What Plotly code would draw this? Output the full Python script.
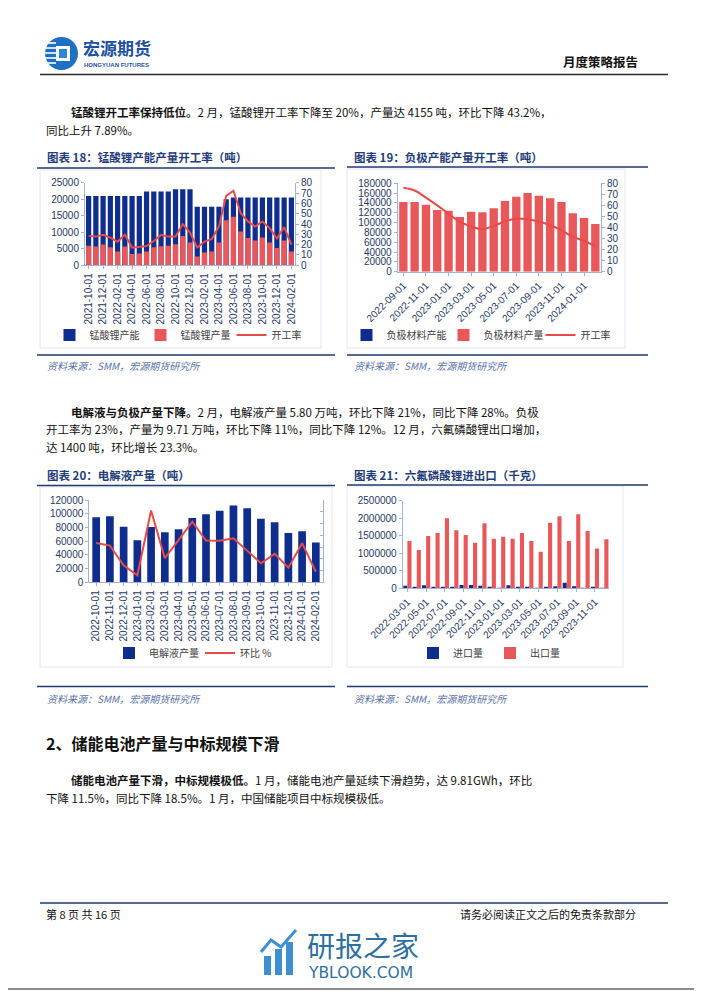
import plotly.graph_objects as go

# The page body adds an 8 px offset; the figure covers 8..702 x 8..991 of the window.
OFF = 8
W, H = 702 - OFF, 991 - OFF
def px(x): return (x - OFF) / W
def py(y): return 1 - (y - OFF) / H

# ---------------- data ----------------
lmo_months = ["2021-10-01","2021-11-01","2021-12-01","2022-01-01","2022-02-01","2022-03-01","2022-04-01","2022-05-01",
              "2022-06-01","2022-07-01","2022-08-01","2022-09-01","2022-10-01","2022-11-01","2022-12-01","2023-01-01",
              "2023-02-01","2023-03-01","2023-04-01","2023-05-01","2023-06-01","2023-07-01","2023-08-01","2023-09-01",
              "2023-10-01","2023-11-01","2023-12-01","2024-01-01","2024-02-01"]
lmo_capacity = [21000,21000,21000,21000,21000,21000,21000,21000,22300,22300,22300,22300,23000,23000,23000,17700,
                17700,17700,17700,20000,20500,20500,20500,20500,20500,20500,20500,20500,20500]
lmo_output = [5900,5700,6300,5500,4200,5700,3400,3600,4200,5500,5800,5900,6400,8900,6900,2700,
              3900,4200,6900,13600,14700,10200,8300,7500,8400,6900,5200,7500,4155]
lmo_rate = [28.5,27.8,29.5,26.8,22.9,29.7,17.0,18.0,18.6,23.5,29.4,27.8,27.8,39.9,31.7,17.3,
            22.9,25.2,37.6,67.3,72.2,50.6,42.5,37.6,42.5,36.0,26.0,37.0,20.0]

anode_months = ["2022-09-01","2022-10-01","2022-11-01","2022-12-01","2023-01-01","2023-02-01","2023-03-01","2023-04-01",
                "2023-05-01","2023-06-01","2023-07-01","2023-08-01","2023-09-01","2023-10-01","2023-11-01","2023-12-01",
                "2024-01-01","2024-02-01"]
anode_capacity = [None, None, None, None, None, None, None, None, None,
                  None, None, None, None, None, None, None, None, None]
anode_output = [142000,142000,136500,125700,124300,111400,122300,121000,129000,144000,152800,160300,
                154900,149500,142000,118900,109400,97100]
anode_rate = [76.0,73.5,67.0,60.0,52.5,45.0,41.0,38.5,41.5,45.5,48.0,47.5,45.5,42.0,37.5,31.5,28.0,23.0]

elec_months = ["2022-10-01","2022-11-01","2022-12-01","2023-01-01","2023-02-01","2023-03-01","2023-04-01","2023-05-01",
               "2023-06-01","2023-07-01","2023-08-01","2023-09-01","2023-10-01","2023-11-01","2023-12-01","2024-01-01",
               "2024-02-01"]
elec_output = [94700,96200,81100,61200,80600,72900,77300,93800,99100,104500,111800,107900,92800,87500,71900,74300,58000]
elec_mom = [3.4,1.2,-15.5,-24.0,31.0,-9.5,5.8,21.5,5.5,5.3,7.5,-3.0,-13.8,-5.8,-17.6,3.3,-21.0]

lipf6_months = ["2022-03-01","2022-04-01","2022-05-01","2022-06-01","2022-07-01","2022-08-01","2022-09-01","2022-10-01",
                "2022-11-01","2022-12-01","2023-01-01","2023-02-01","2023-03-01","2023-04-01","2023-05-01","2023-06-01",
                "2023-07-01","2023-08-01","2023-09-01","2023-10-01","2023-11-01","2023-12-01"]
lipf6_import = [75000,45000,90000,45000,40000,45000,95000,95000,75000,45000,5000,90000,
                25000,25000,5000,25000,55000,160000,55000,5000,25000,5000]
lipf6_export = [1350000,1093000,1492000,1578000,1996000,1654000,1521000,1302000,1854000,1416000,1473000,
                1416000,1578000,1350000,1046000,1873000,2053000,1350000,2110000,1635000,1135000,1400000]

# ---------------- styles ----------------
NAVY = "#0f2d8c"
RED = "#e8585b"
LINE = "#e84a4a"
TITLE = "#1f3d7a"
RULE = "#1f3a6e"
AXIS = "#9fb3d8"
TICK = "#1f3864"
CJK = "Noto Sans CJK SC"
LAT = "Liberation Sans"

fig = go.Figure()

# chart 18
fig.add_bar(x=lmo_months, y=lmo_capacity, name="锰酸锂产能", marker=dict(color=NAVY, line_width=0),
            width=0.72, offsetgroup="c18", xaxis="x", yaxis="y", legend="legend")
fig.add_bar(x=lmo_months, y=lmo_output, name="锰酸锂产量", marker=dict(color=RED, line_width=0),
            width=0.72, offsetgroup="c18", xaxis="x", yaxis="y", legend="legend")
fig.add_scatter(x=lmo_months, y=lmo_rate, name="开工率", mode="lines", line=dict(color=LINE, width=2),
                xaxis="x", yaxis="y2", legend="legend")

# chart 19
fig.add_bar(x=anode_months, y=anode_capacity, name="负极材料产能", marker=dict(color=NAVY, line_width=0),
            width=0.74, offsetgroup="c19", xaxis="x2", yaxis="y3", legend="legend2")
fig.add_bar(x=anode_months, y=anode_output, name="负极材料产量", marker=dict(color=RED, line_width=0),
            width=0.74, offsetgroup="c19", xaxis="x2", yaxis="y3", legend="legend2")
fig.add_scatter(x=anode_months, y=anode_rate, name="开工率", mode="lines", line=dict(color=LINE, width=2, shape="spline"),
                xaxis="x2", yaxis="y4", legend="legend2")

# chart 20
fig.add_bar(x=elec_months, y=elec_output, name="电解液产量", marker=dict(color=NAVY, line_width=0),
            width=0.56, offsetgroup="c20", xaxis="x3", yaxis="y5", legend="legend3")
fig.add_scatter(x=elec_months, y=elec_mom, name="环比 %", mode="lines", line=dict(color=LINE, width=2),
                xaxis="x3", yaxis="y6", legend="legend3")

# chart 21
fig.add_bar(x=lipf6_months, y=lipf6_import, name="进口量", marker=dict(color=NAVY, line_width=0),
            offsetgroup="imp", xaxis="x4", yaxis="y7", legend="legend4")
fig.add_bar(x=lipf6_months, y=lipf6_export, name="出口量", marker=dict(color=RED, line_width=0),
            offsetgroup="exp", xaxis="x4", yaxis="y7", legend="legend4")

def xax(x0, x1, anchor, tickvals, angle):
    return dict(domain=[px(x0), px(x1)], anchor=anchor, type="category", showline=True, linecolor=AXIS,
                linewidth=1, ticks="outside", ticklen=3, tickcolor=AXIS, tickvals=tickvals, tickangle=angle,
                tickfont=dict(size=10, color=TICK, family=LAT), showgrid=False, zeroline=False, automargin=False)

def yax(y_top, y_bot, anchor, rng, dtick, side="left", overlaying=None, labels=True, ticks="outside"):
    d = dict(anchor=anchor, range=rng, dtick=dtick, side=side, showline=True, linecolor=AXIS, linewidth=1,
             ticks=ticks, ticklen=3, tickcolor=AXIS, showticklabels=labels, tickformat="d",
             tickfont=dict(size=10, color=TICK, family=LAT), showgrid=False, zeroline=False, automargin=False)
    if overlaying:
        d["overlaying"] = overlaying
    else:
        d["domain"] = [py(y_bot), py(y_top)]
    return d

layout = dict(
    width=W, height=H, margin=dict(l=0, r=0, t=0, b=0, pad=0, autoexpand=False),
    paper_bgcolor="white", plot_bgcolor="white",
    font=dict(family=f"{LAT}, {CJK}", color="#222"),
    barmode="group", bargap=0.12, bargroupgap=0.0,
    xaxis=xax(85, 295, "y", lmo_months[::2], -90),
    yaxis=yax(182.7, 265.3, "x", [0, 25000], 5000),
    yaxis2=yax(0, 0, "x", [0, 80], 10, side="right", overlaying="y"),
    xaxis2=xax(397.7, 601, "y3", anode_months[::2], -45),
    yaxis3=yax(183.3, 271.7, "x2", [0, 180000], 20000),
    yaxis4=yax(0, 0, "x2", [0, 80], 10, side="right", overlaying="y3"),
    xaxis3=xax(89.3, 322.7, "y5", elec_months, -90),
    yaxis5=yax(500, 582.3, "x3", [0, 120000], 20000),
    yaxis6=yax(0, 0, "x3", [-30, 40], 10, side="right", overlaying="y5", labels=False, ticks="inside"),
    xaxis4=xax(402.7, 609, "y7", lipf6_months[::2], -45),
    yaxis7=yax(500.7, 588.3, "x4", [0, 2500000], 500000),
)

def leg(cx, cy, ew):
    return dict(orientation="h", x=px(cx), y=py(cy), xanchor="center", yanchor="middle",
                font=dict(size=10, color="#404040", family=CJK), bgcolor="rgba(0,0,0,0)",
                itemwidth=30, tracegroupgap=0, entrywidth=ew, entrywidthmode="pixels")

layout["legend"] = leg(186, 335, 46)
layout["legend2"] = leg(492, 335, 52)
layout["legend3"] = leg(200, 653, 46)
layout["legend4"] = leg(490, 653, 32)
fig.update_layout(**layout)

# ---------------- page text ----------------
ann = []
def text(x, y, s, size=12, color="#111", anchor="left", family=CJK):
    ann.append(dict(x=px(x), y=py(y), xref="paper", yref="paper", text=s, showarrow=False,
                    xanchor=anchor, yanchor="middle", font=dict(size=size, color=color, family=family)))

text(81, 47.5, "<b>宏源期货</b>", 17, "#1b4fa0")
text(82, 64.5, "<b>HONGYUAN FUTURES</b>", 6, "#1b4fa0", family=LAT)
text(640, 62, "<b>月度策略报告</b>", 12.5, "#111", "right")

text(69, 112, "<b>锰酸锂开工率保持低位。</b>2 月，锰酸锂开工率下降至 20%，产量达 4155 吨，环比下降 43.2%，", 11.5)
text(44, 129.5, "同比上升 7.89%。", 11.5)

text(45, 157.5, "<b>图表 18：锰酸锂产能产量开工率（吨）</b>", 11.5, TITLE)
text(352, 157.5, "<b>图表 19：负极产能产量开工率（吨）</b>", 11.5, TITLE)
text(45, 366, "<i>资料来源：SMM，宏源期货研究所</i>", 10, "#5a72a8")
text(352, 366, "<i>资料来源：SMM，宏源期货研究所</i>", 10, "#5a72a8")

text(69, 411.5, "<b>电解液与负极产量下降。</b>2 月，电解液产量 5.80 万吨，环比下降 21%，同比下降 28%。负极", 11.5)
text(44, 429, "开工率为 23%，产量为 9.71 万吨，环比下降 11%，同比下降 12%。12 月，六氟磷酸锂出口增加，", 11.5)
text(44, 446.5, "达 1400 吨，环比增长 23.3%。", 11.5)

text(45, 475, "<b>图表 20：电解液产量（吨）</b>", 11.5, TITLE)
text(352, 475, "<b>图表 21：六氟磷酸锂进出口（千克）</b>", 11.5, TITLE)
text(45, 698, "<i>资料来源：SMM，宏源期货研究所</i>", 10, "#5a72a8")
text(352, 698, "<i>资料来源：SMM，宏源期货研究所</i>", 10, "#5a72a8")

text(44, 743, "<b>2、储能电池产量与中标规模下滑</b>", 16, "#111")
text(69, 780, "<b>储能电池产量下滑，中标规模极低。</b>1 月，储能电池产量延续下滑趋势，达 9.81GWh，环比", 11.5)
text(44, 797.5, "下降 11.5%，同比下降 18.5%。1 月，中国储能项目中标规模极低。", 11.5)

text(44, 913.5, "第 8 页 共 16 页", 11, "#111")
text(638, 913.5, "请务必阅读正文之后的免责条款部分", 11, "#111", "right")
text(305, 945, "研报之家", 28, "#2f6f9f")
text(306, 973, "YBLOOK.COM", 15.5, "#2f6f9f", family="DejaVu Sans")

shapes = []
def hline(x0, x1, y, color, width):
    shapes.append(dict(type="line", xref="paper", yref="paper", x0=px(x0), x1=px(x1), y0=py(y), y1=py(y),
                       line=dict(color=color, width=width)))
def rect(x0, y0, x1, y1, fill, line=None, kind="rect"):
    shapes.append(dict(type=kind, xref="paper", yref="paper", x0=px(x0), x1=px(x1), y0=py(y1), y1=py(y0),
                       fillcolor=fill, line=dict(color=line or fill, width=1 if line else 0), layer="above"))

hline(40, 668, 74.5, "#2a2a2a", 1.4)
# chart frames
for (x0, y0, x1, y1) in [(40, 170, 321, 348), (347, 169, 625, 348), (40, 487, 332, 667), (347, 486, 623, 667)]:
    shapes.append(dict(type="rect", xref="paper", yref="paper", x0=px(x0), x1=px(x1), y0=py(y1), y1=py(y0),
                       line=dict(color="#e3e6ec", width=1), layer="below"))
hline(37, 335, 168, RULE, 1.6)
hline(347, 648, 167, RULE, 1.6)
hline(37, 335, 355, RULE, 1.6)
hline(347, 648, 355, RULE, 1.6)
hline(37, 335, 485.5, RULE, 1.6)
hline(347, 648, 485, RULE, 1.6)
hline(37, 335, 686.5, RULE, 1.6)
hline(347, 648, 686.5, RULE, 1.6)
hline(40, 668, 903, RULE, 1.6)
hline(8, 702, 989, "#8c8c8c", 2)

# logo
rect(45, 37, 78, 70, "#1f6fc4", kind="circle")
for yy in [43, 48, 53, 58, 63]:
    shapes.append(dict(type="line", xref="paper", yref="paper", x0=px(44), x1=px(56), y0=py(yy), y1=py(yy),
                       line=dict(color="white", width=1.6), layer="above"))
rect(56, 46, 70, 61, "white")
rect(59, 49, 67, 58, "#2a86d6")

# watermark icon
rect(264, 956, 271, 975, "#3d8fd0")
rect(275, 949, 282, 975, "#3d8fd0")
rect(286, 942, 293, 975, "#3d8fd0")
shapes.append(dict(type="path", xref="paper", yref="paper",
                   path=f"M {px(261)} {py(952)} L {px(271)} {py(940)} L {px(281)} {py(947)} L {px(296)} {py(930)}",
                   line=dict(color="#3d8fd0", width=3), layer="above"))

fig.update_layout(annotations=ann, shapes=shapes)
fig.write_html("out.html")
